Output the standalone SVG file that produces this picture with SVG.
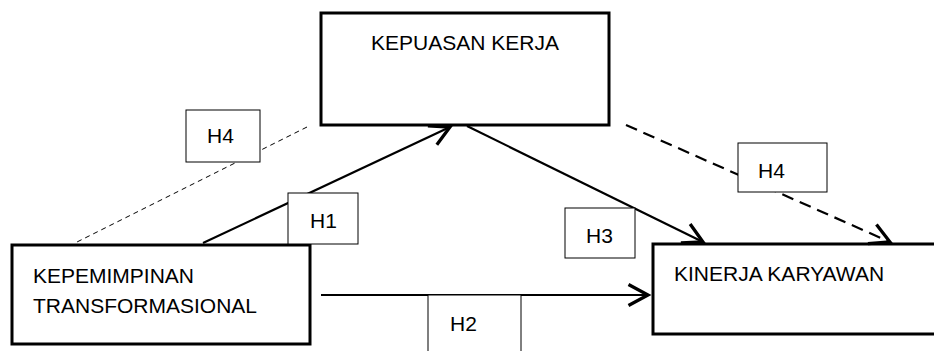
<svg xmlns="http://www.w3.org/2000/svg" width="934" height="351" viewBox="0 0 934 351">
<defs>
<style>
.node{fill:#fff;stroke:#000;stroke-width:3}
.lbl{fill:#fff;stroke:#000;stroke-width:1}
text{font-family:"Liberation Sans",Arial,sans-serif;font-size:21px;fill:#000}
.solid{stroke:#000;stroke-width:2.2;fill:none}
.dash1{stroke:#000;stroke-width:1;stroke-dasharray:5,4;fill:none}
.dash2{stroke:#000;stroke-width:2.2;stroke-dasharray:12,7;fill:none}
</style>
<marker id="arr" markerUnits="userSpaceOnUse" markerWidth="30" markerHeight="30" refX="0" refY="0" viewBox="-16 -10 20 20" orient="auto" overflow="visible">
<path d="M-13,-7 L0,0 L-13,7" fill="none" stroke="#000" stroke-width="2.2" stroke-dasharray="none"/>
</marker>
</defs>
<g id="kepuasan"><rect class="node" x="321" y="13" width="288" height="112"/><text x="371" y="50">KEPUASAN KERJA</text></g>
<g id="kepemimpinan"><rect class="node" x="12" y="245" width="298" height="99"/><text x="33" y="283">KEPEMIMPINAN</text><text x="33" y="313">TRANSFORMASIONAL</text></g>
<g id="kinerja"><rect class="node" x="653" y="244" width="300" height="90"/><text x="674" y="281">KINERJA KARYAWAN</text></g>
<g id="connectors">
<line class="dash1" x1="307" y1="127" x2="75" y2="243"/>
<line class="solid" x1="203" y1="243" x2="450" y2="127" marker-end="url(#arr)"/>
<line class="solid" x1="467" y1="126" x2="703" y2="242" marker-end="url(#arr)"/>
<line class="dash2" x1="626" y1="125" x2="890" y2="242" marker-end="url(#arr)"/>
<line class="solid" x1="321" y1="295" x2="648" y2="295" marker-end="url(#arr)"/>
</g>
<g id="h4a"><rect class="lbl" x="186" y="110" width="74" height="52"/><text x="207" y="143">H4</text></g>
<g id="h1"><rect class="lbl" x="288" y="193" width="70" height="51"/><text x="310" y="228">H1</text></g>
<g id="h3"><rect class="lbl" x="565" y="208" width="70" height="50"/><text x="586" y="243">H3</text></g>
<g id="h4b"><rect class="lbl" x="738" y="143" width="89" height="49"/><text x="758" y="178">H4</text></g>
<g id="h2"><rect class="lbl" x="428" y="295" width="93" height="70"/><text x="450" y="331">H2</text></g>
</svg>
